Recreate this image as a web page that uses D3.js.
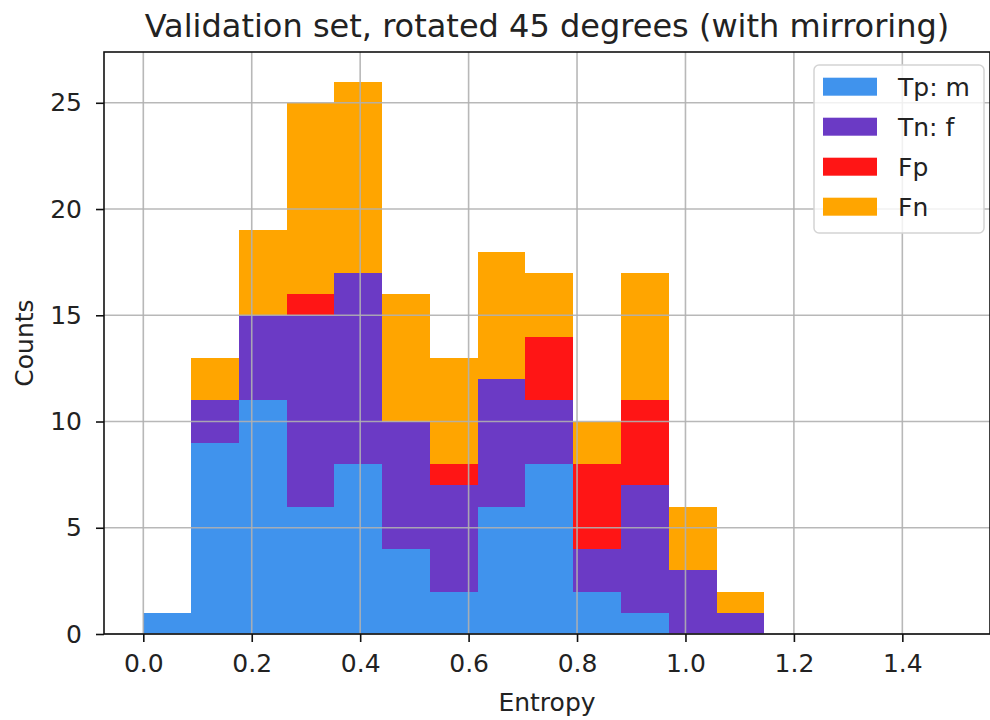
<!DOCTYPE html>
<html>
<head>
<meta charset="utf-8">
<script src="https://cdn.jsdelivr.net/npm/d3@7"></script>
<style>
  body { margin: 0; background: #fff; }
  svg text { font-family: "DejaVu Sans", sans-serif; fill: #222; }
</style>
</head>
<body>
<div id="chart"></div>
<script>
// bin edges of the entropy histogram (13 bins)
var binEdges = [0, 0.0881, 0.1762, 0.2643, 0.3525, 0.4406, 0.5287, 0.6168, 0.7049, 0.7930, 0.8812, 0.9693, 1.0574, 1.1455];

// counts per bin for each class
var tpM = [1, 9, 11, 6, 8, 4, 2, 6, 8, 2, 1, 0, 0];
var tnF = [0, 2, 4, 9, 9, 6, 5, 6, 3, 2, 6, 3, 1];
var fpC = [0, 0, 0, 1, 0, 0, 1, 0, 3, 4, 4, 0, 0];
var fnC = [0, 2, 4, 9, 9, 6, 5, 6, 3, 2, 6, 3, 1];

var keys = ["Tp: m", "Tn: f", "Fp", "Fn"];
var colors = ['#4093ed', '#6b3ac5', '#ff1515', '#ffa500'];

var xTicks = [0, 0.2, 0.4, 0.6, 0.8, 1.0, 1.2, 1.4];
var yTicks = [0, 5, 10, 15, 20, 25];

var margins = { top: 52, left: 104, right: 0, bottom: 86 };
var W = 990, H = 720;
var width = W - margins.left - margins.right;
var height = H - margins.top - margins.bottom;

var rows = tpM.map(function(d, i) {
        var r = { x0: binEdges[i], x1: binEdges[i + 1] };
        r[keys[0]] = tpM[i];
        r[keys[1]] = tnF[i];
        r[keys[2]] = fpC[i];
        r[keys[3]] = fnC[i];
        return r;
});

var series = d3.stack().keys(keys)(rows);

var xScale = d3.scaleLinear().domain([-0.0725, 1.5617]).range([0, width]);
var yScale = d3.scaleLinear().domain([0, 27.39]).range([height, 0]);

var svg = d3.select('#chart').append('svg')
        .attr('width', W)
        .attr('height', H);

var plot = svg.append('g')
        .attr('transform', 'translate(' + margins.left + ',' + margins.top + ')');

// bars
plot.selectAll('g.series')
        .data(series)
        .enter()
        .append('g')
        .classed('series', true)
        .style('fill', function(d, i) { return colors[i]; })
        .selectAll('rect')
        .data(function(d) { return d.filter(function(p) { return p[1] > p[0]; }); })
        .enter()
        .append('rect')
        .attr('x', function(d) { return xScale(d.data.x0); })
        .attr('width', function(d) { return xScale(d.data.x1) - xScale(d.data.x0); })
        .attr('y', function(d) { return yScale(d[1]); })
        .attr('height', function(d) { return yScale(d[0]) - yScale(d[1]); })
        .attr('shape-rendering', 'crispEdges');

// grid on top of the bars
var grid = plot.append('g').attr('class', 'grid');
grid.selectAll('line.vx')
        .data(xTicks)
        .enter().append('line')
        .attr('x1', function(d) { return xScale(d); })
        .attr('x2', function(d) { return xScale(d); })
        .attr('y1', 0).attr('y2', height)
        .attr('stroke', '#b0b0b0').attr('stroke-width', 1.6).attr('stroke-opacity', 0.9);
grid.selectAll('line.hy')
        .data(yTicks)
        .enter().append('line')
        .attr('y1', function(d) { return yScale(d); })
        .attr('y2', function(d) { return yScale(d); })
        .attr('x1', 0).attr('x2', width)
        .attr('stroke', '#b0b0b0').attr('stroke-width', 1.6).attr('stroke-opacity', 0.9);

// axes
var hAxis = d3.axisBottom(xScale).tickValues(xTicks).tickFormat(d3.format('.1f'))
        .tickSizeInner(8).tickSizeOuter(0).tickPadding(12);
var hGuide = plot.append('g').attr('transform', 'translate(0,' + height + ')');
hAxis(hGuide);

var vAxis = d3.axisLeft(yScale).tickValues(yTicks).tickFormat(d3.format('d'))
        .tickSizeInner(8).tickSizeOuter(0).tickPadding(14);
var vGuide = plot.append('g');
vAxis(vGuide);

[hGuide, vGuide].forEach(function(g) {
        g.select('.domain').remove();
        g.selectAll('.tick line').attr('stroke', '#111').attr('stroke-width', 1.6);
        g.selectAll('.tick text').style('font-size', '25px').attr('fill', '#222');
});

// frame (spines)
plot.append('rect')
        .attr('x', 0).attr('y', 0)
        .attr('width', width).attr('height', height)
        .attr('fill', 'none')
        .attr('stroke', '#111')
        .attr('stroke-width', 1.6);

// labels
svg.append('text')
        .attr('x', margins.left + width / 2)
        .attr('y', 37)
        .attr('text-anchor', 'middle')
        .style('font-size', '32px')
        .text('Validation set, rotated 45 degrees (with mirroring)');

svg.append('text')
        .attr('x', margins.left + width / 2)
        .attr('y', 711)
        .attr('text-anchor', 'middle')
        .style('font-size', '25px')
        .text('Entropy');

svg.append('text')
        .attr('transform', 'translate(33,' + (margins.top + height / 2) + ') rotate(-90)')
        .attr('text-anchor', 'middle')
        .style('font-size', '25px')
        .text('Counts');

// legend
var legend = svg.append('g');
legend.append('rect')
        .attr('x', 814).attr('y', 65)
        .attr('width', 170).attr('height', 168)
        .attr('rx', 5)
        .attr('fill', '#fff').attr('fill-opacity', 0.8)
        .attr('stroke', '#d4d4d4').attr('stroke-width', 1.5);

keys.forEach(function(s, i) {
        var cy = 86.7 + i * 40;
        legend.append('rect')
                .attr('x', 823).attr('y', cy - 9)
                .attr('width', 54).attr('height', 18)
                .attr('fill', colors[i]);
        legend.append('text')
                .attr('x', 898).attr('y', cy + 9)
                .style('font-size', '25px')
                .text(s);
});
</script>
</body>
</html>
